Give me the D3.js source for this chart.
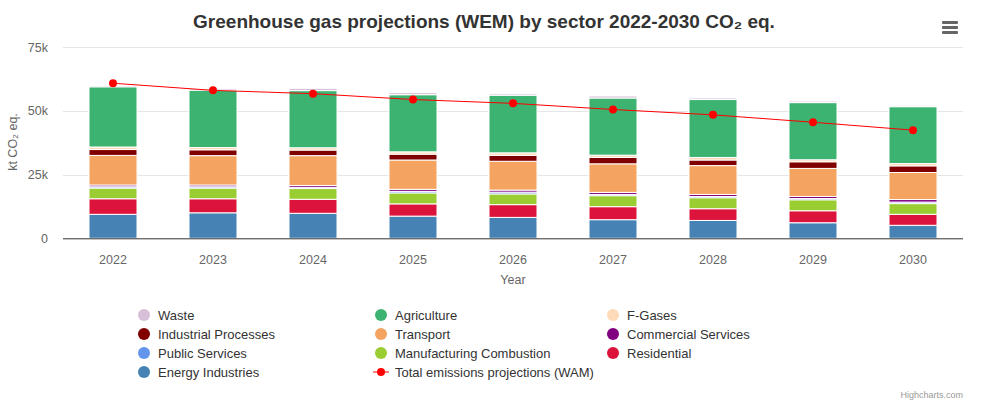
<!DOCTYPE html>
<html>
<head>
<meta charset="utf-8">
<script src="https://cdn.jsdelivr.net/npm/d3@7"></script>
<style>
html,body{margin:0;padding:0;background:#fff;}
svg{display:block;font-family:"Liberation Sans",Arial,Helvetica,sans-serif;}
</style>
</head>
<body>
<svg id="chart" width="991" height="411"></svg>
<script>
// ---- data (kt CO2 eq.) ----
const years = ["2022","2023","2024","2025","2026","2027","2028","2029","2030"];
const energyIndustries   = [9.4, 10.0, 9.8, 8.7, 8.2, 7.3, 7.0, 6.1, 5.1].map(v=>v*1000);
const residential        = [6.1, 5.5, 5.5, 4.8, 5.0, 5.1, 4.6, 4.7, 4.3].map(v=>v*1000);
const manufacturing      = [4.2, 4.2, 4.2, 4.3, 4.2, 4.3, 4.3, 4.3, 4.2].map(v=>v*1000);
const publicServices     = [0.5, 0.5, 0.5, 0.6, 0.7, 0.5, 0.5, 0.5, 0.6].map(v=>v*1000);
const commercialServices = [0.7, 0.7, 0.7, 0.8, 0.8, 0.8, 0.8, 0.8, 1.0].map(v=>v*1000);
const transport          = [11.6, 11.5, 11.7, 11.5, 11.3, 11.2, 11.3, 11.0, 10.6].map(v=>v*1000);
const industrialProcesses= [2.3, 2.3, 2.2, 2.3, 2.3, 2.5, 2.2, 2.6, 2.6].map(v=>v*1000);
const fGases             = [1.0, 0.9, 0.9, 0.9, 1.0, 0.9, 1.0, 0.8, 0.9].map(v=>v*1000);
const agriculture        = [23.6, 22.5, 22.4, 22.4, 22.6, 22.4, 22.7, 22.4, 22.3].map(v=>v*1000);
const waste              = [0.5, 0.6, 0.9, 0.8, 0.6, 0.8, 0.6, 0.6, 0.5].map(v=>v*1000);
const totalWAM           = [60.8, 58.0, 56.7, 54.4, 52.9, 50.5, 48.4, 45.5, 42.4].map(v=>v*1000);
const yTicks = [0, 25000, 50000, 75000];
const yTickLabels = ["0", "25k", "50k", "75k"];

// stacking order bottom -> top
const series = [
  {name:"Energy Industries", values:energyIndustries, color:"#4682B4"},
  {name:"Residential", values:residential, color:"#DC143C"},
  {name:"Manufacturing Combustion", values:manufacturing, color:"#9ACD32"},
  {name:"Public Services", values:publicServices, color:"#6495ED"},
  {name:"Commercial Services", values:commercialServices, color:"#800080"},
  {name:"Transport", values:transport, color:"#F4A460"},
  {name:"Industrial Processes", values:industrialProcesses, color:"#800000"},
  {name:"F-Gases", values:fGases, color:"#FFDAB9"},
  {name:"Agriculture", values:agriculture, color:"#3CB371"},
  {name:"Waste", values:waste, color:"#D8BFD8"}
];
// legend order (row-wise, 3 columns)
const legendOrder = ["Waste","Agriculture","F-Gases","Industrial Processes","Transport","Commercial Services","Public Services","Manufacturing Combustion","Residential","Energy Industries","Total emissions projections (WAM)"];

(function(){
const svg = d3.select("#chart");
const pLeft = 63, pRight = 963, pTop = 47, pBottom = 238.3;

const x = d3.scaleBand().domain(years).range([pLeft, pRight]).paddingInner(0.52).paddingOuter(0.26);
const y = d3.scaleLinear().domain([0, 75000]).range([pBottom, pTop]);

// gridlines
svg.append("g").selectAll("line").data(yTicks.slice(1)).join("line")
  .attr("x1", pLeft).attr("x2", pRight)
  .attr("y1", d=>Math.round(y(d))+0.5).attr("y2", d=>Math.round(y(d))+0.5)
  .attr("stroke","#e6e6e6").attr("stroke-width",1);

// y labels
svg.append("g").selectAll("text").data(yTicks).join("text")
  .attr("x", 48).attr("y", d=>y(d)+4.5)
  .attr("text-anchor","end").attr("fill","#666").attr("font-size","12.5px")
  .text((d,i)=>yTickLabels[i]);

// y title
svg.append("text").attr("transform","translate(17,142) rotate(-90)")
  .attr("text-anchor","middle").attr("fill","#666").attr("font-size","12.5px")
  .text("kt CO₂ eq.");

// stacked bars
const rows = years.map((yr,i)=>{ const o={year:yr}; series.forEach(s=>o[s.name]=s.values[i]); return o; });
const stack = d3.stack().keys(series.map(s=>s.name))(rows);
const barG = svg.append("g");
stack.forEach((layer, li)=>{
  barG.append("g").selectAll("rect").data(layer).join("rect")
    .attr("x", d=>x(d.data.year))
    .attr("width", x.bandwidth())
    .attr("y", d=>y(d[1]))
    .attr("height", d=>Math.max(0, y(d[0])-y(d[1])))
    .attr("fill", series[li].color)
    .attr("stroke","#fff").attr("stroke-width",1);
});

// x axis line
svg.append("line").attr("x1",pLeft).attr("x2",pRight).attr("y1",pBottom+0.5).attr("y2",pBottom+0.5)
  .attr("stroke","#333").attr("stroke-width",1);

// x labels
svg.append("g").selectAll("text").data(years).join("text")
  .attr("x", d=>x(d)+x.bandwidth()/2).attr("y", 264)
  .attr("text-anchor","middle").attr("fill","#666").attr("font-size","12.5px")
  .text(d=>d);
svg.append("text").attr("x",(pLeft+pRight)/2).attr("y",284)
  .attr("text-anchor","middle").attr("fill","#666").attr("font-size","12.5px").text("Year");

// total line
const line = d3.line().x((d,i)=>x(years[i])+x.bandwidth()/2).y(d=>y(d));
svg.append("path").datum(totalWAM).attr("d",line).attr("fill","none").attr("stroke","#FF0000").attr("stroke-width",1);
svg.append("g").selectAll("circle").data(totalWAM).join("circle")
  .attr("cx",(d,i)=>x(years[i])+x.bandwidth()/2).attr("cy",d=>y(d)).attr("r",4).attr("fill","#FF0000");

// title
svg.append("text").attr("x",484).attr("y",28).attr("text-anchor","middle")
  .attr("fill","#333").attr("font-size","19px").attr("font-weight","bold")
  .text("Greenhouse gas projections (WEM) by sector 2022-2030 CO₂ eq.");

// menu icon
[0,5,10].forEach(o=>{
  svg.append("rect").attr("x",942).attr("y",21+o).attr("width",16).attr("height",3).attr("rx",1).attr("fill","#666");
});

// legend
const colorOf = {}; series.forEach(s=>colorOf[s.name]=s.color);
const colX = [144, 381, 613];
const rowY = [315, 334, 353, 372];
const lg = svg.append("g");
legendOrder.forEach((name,i)=>{
  const cx = colX[i%3], cy = rowY[Math.floor(i/3)];
  if (name.startsWith("Total")) {
    lg.append("line").attr("x1",cx-8).attr("x2",cx+8).attr("y1",cy).attr("y2",cy).attr("stroke","#FF0000").attr("stroke-width",1);
    lg.append("circle").attr("cx",cx).attr("cy",cy).attr("r",4).attr("fill","#FF0000");
  } else {
    lg.append("circle").attr("cx",cx).attr("cy",cy).attr("r",6).attr("fill",colorOf[name]);
  }
  lg.append("text").attr("x",cx+14).attr("y",cy+4.5).attr("fill","#333").attr("font-size","13px").text(name);
});

// credits
svg.append("text").attr("x",963).attr("y",398).attr("text-anchor","end")
  .attr("fill","#999").attr("font-size","9px").text("Highcharts.com");
})();
</script>
</body>
</html>
